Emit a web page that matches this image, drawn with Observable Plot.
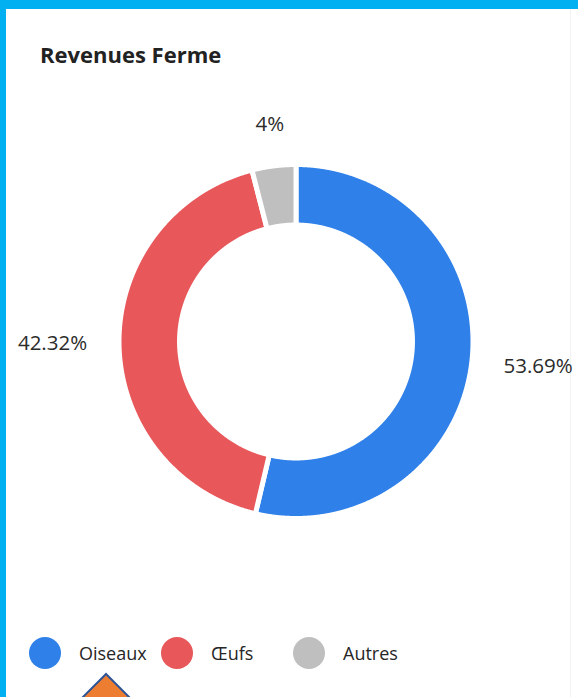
<!DOCTYPE html>
<html>
<head>
<meta charset="utf-8">
<script src="https://cdn.jsdelivr.net/npm/d3@7"></script>
<script src="https://cdn.jsdelivr.net/npm/@observablehq/plot@0.6"></script>
<style>
  body { margin: 0; background: #fff; }
  #page { position: relative; width: 578px; height: 697px; overflow: hidden; background: #fff; font-family: "Open Sans", sans-serif; }
  #topbar { position: absolute; left: 0; top: 0; width: 578px; height: 9px; background: #00b0f0; }
  #leftbar { position: absolute; left: 0; top: 0; width: 6px; height: 697px; background: #00b0f0; }
  #rightline { position: absolute; left: 570px; top: 9px; width: 1px; height: 688px; background: #f2f2f2; }
  #title { position: absolute; left: 40px; top: 39px; font-weight: 700; font-size: 22px; line-height: 30px; color: #222; white-space: nowrap; }
  #chart { position: absolute; left: 0; top: 0; }
  #legend { position: absolute; left: 29px; top: 637px; display: flex; align-items: center; }
  .item { display: flex; align-items: center; width: 132px; }
  .sw { width: 32px; height: 32px; border-radius: 50%; flex: none; }
  .lab { margin-left: 18px; font-size: 18px; color: #262626; white-space: nowrap; }
  #deco { position: absolute; left: 0; top: 0; }
</style>
</head>
<body>
<div id="page">
  <div id="topbar"></div>
  <div id="leftbar"></div>
  <div id="rightline"></div>
  <div id="chart"></div>
  <div id="title">Revenues Ferme</div>
  <div id="legend"></div>
  <svg id="deco" width="578" height="697"><polygon points="106,674 76,704 136,704" fill="#ed7d31" stroke="#2f5597" stroke-width="2"/></svg>
</div>
<script>
const categories = ["Oiseaux", "Œufs", "Autres"];
const shares = [53.69, 42.32, 4];
const labels = ["53.69%", "42.32%", "4%"];
const colors = ["#2f80e8", "#e8575a", "#bfbfbf"];

const data = categories.map((c, i) => ({category: c, share: shares[i], label: labels[i]}));

const R0 = 0.658, R1 = 1, RL = 1.18;
function slicePolygon(a0, a1) {
  const n = Math.max(8, Math.ceil((a1 - a0) / 0.004));
  const outer = [], inner = [];
  for (let k = 0; k <= n; k++) {
    const a = a0 + (a1 - a0) * k / n;
    outer.push([R1 * Math.sin(a), -R1 * Math.cos(a)]);
    inner.push([R0 * Math.sin(a), -R0 * Math.cos(a)]);
  }
  return [...outer, ...inner.reverse(), outer[0]];
}

const arcs = d3.pie().sort(null).value(d => d.share)(data);
const features = arcs.map(a => ({
  type: "Feature",
  properties: {category: a.data.category},
  geometry: {type: "Polygon", coordinates: [slicePolygon(a.startAngle, a.endAngle)]}
}));
const collection = {type: "FeatureCollection", features};

const labelRows = arcs.map(a => {
  const m = (a.startAngle + a.endAngle) / 2;
  const s = Math.sin(m);
  return {label: a.data.label, x: RL * s, y: -RL * Math.cos(m), side: s > 0.5 ? "right" : s < -0.5 ? "left" : "top"};
});

const textStyle = {fontSize: 20.5, fill: "#2b2b2b"};

const chart = Plot.plot({
  width: 578,
  height: 697,
  marginLeft: 118.5,
  marginRight: 105.5,
  marginTop: 164,
  marginBottom: 179,
  style: {fontFamily: "Open Sans, sans-serif", background: "transparent"},
  projection: {type: "identity", domain: collection, clip: false},
  color: {domain: categories, range: colors},
  marks: [
    Plot.geo(features, {fill: d => d.properties.category, stroke: "white", strokeWidth: 5}),
    Plot.text(labelRows.filter(d => d.side === "right"), {x: "x", y: "y", text: "label", textAnchor: "start", lineAnchor: "middle", dy: 1, ...textStyle}),
    Plot.text(labelRows.filter(d => d.side === "left"), {x: "x", y: "y", text: "label", textAnchor: "end", lineAnchor: "middle", ...textStyle}),
    Plot.text(labelRows.filter(d => d.side === "top"), {x: "x", y: "y", text: "label", textAnchor: "middle", lineAnchor: "bottom", dy: -3, ...textStyle})
  ]
});
document.getElementById("chart").appendChild(chart);

const legend = document.getElementById("legend");
categories.forEach((c, i) => {
  const item = document.createElement("div");
  item.className = "item";
  const sw = document.createElement("div");
  sw.className = "sw";
  sw.style.background = colors[i];
  const lab = document.createElement("div");
  lab.className = "lab";
  lab.textContent = c;
  item.appendChild(sw);
  item.appendChild(lab);
  legend.appendChild(item);
});
</script>
</body>
</html>
